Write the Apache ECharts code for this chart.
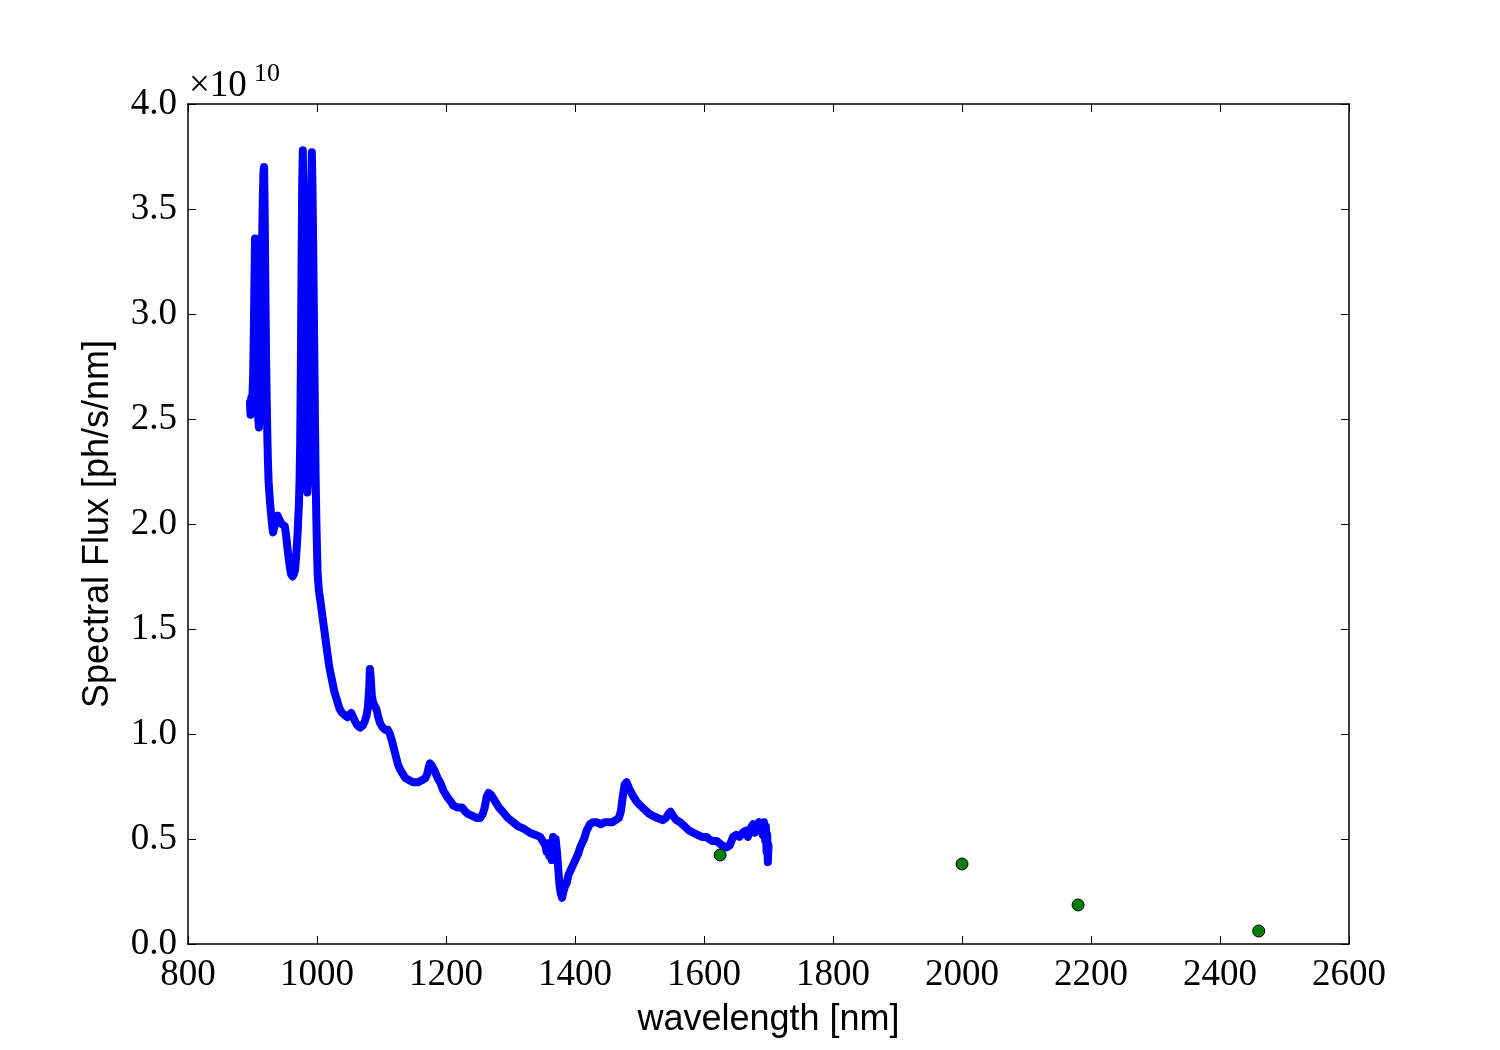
<!DOCTYPE html>
<html>
<head>
<meta charset="utf-8">
<script src="https://cdn.jsdelivr.net/npm/echarts@6/dist/echarts.min.js"></script>
<style>
html,body{margin:0;padding:0;background:#fff;}
#chart{width:1500px;height:1050px;}
</style>
</head>
<body>
<div id="chart"></div>
<script>
// Spectrum (flux in units of 1e10 ph/s/nm)
const wavelength = [896,897,898,899,900,901,902,903,904,905,906,907,908,909,910,911,912,913,914,915,916,917,918,919,920,921,922,923,924,925,927,929,931,932,934,936,939,942,945,948,950,952,954,956,958,960,962,964,966,968,970,972,973,974,975,976,977,978,979,980,981,982,983,984,985,986,987,988,989,990,991,992,993,994,995,996,997,998,999,1000,1001,1003,1005,1008,1012,1015,1019,1023,1027,1031,1035,1039,1043,1047,1050,1053,1056,1059,1063,1067,1071,1074,1077,1079,1081,1082,1083,1085,1087,1090,1092,1095,1098,1102,1106,1110,1113,1116,1121,1125,1129,1133,1137,1143,1149,1156,1163,1168,1171,1173,1175,1178,1183,1187,1191,1196,1202,1207,1211,1218,1225,1230,1234,1241,1248,1253,1257,1260,1263,1266,1270,1276,1282,1288,1296,1304,1312,1320,1330,1338,1346,1350,1354,1356,1358,1360,1362,1364,1366,1368,1370,1372,1374,1376,1378,1380,1382,1384,1387,1390,1393,1396,1399,1402,1405,1408,1411,1414,1418,1423,1428,1434,1440,1446,1452,1458,1463,1468,1471,1474,1477,1480,1484,1489,1495,1501,1508,1515,1521,1528,1536,1541,1545,1548,1552,1557,1563,1570,1577,1583,1590,1597,1604,1608,1613,1620,1628,1635,1640,1645,1650,1655,1660,1665,1668,1672,1676,1679,1682,1685,1687,1689,1691,1693,1695,1696,1697,1698,1699,1700];
const flux = [2.58,2.52,2.60,2.53,2.62,2.70,2.90,3.15,3.36,3.20,2.95,2.75,2.60,2.50,2.46,2.55,2.75,2.95,3.15,3.35,3.55,3.68,3.70,3.45,3.10,2.80,2.60,2.42,2.29,2.20,2.11,2.04,1.98,1.96,1.99,2.02,2.04,2.02,2.00,2.00,1.99,1.95,1.89,1.84,1.79,1.76,1.75,1.76,1.78,1.86,1.96,2.10,2.21,2.40,2.75,3.20,3.60,3.78,3.55,3.20,2.90,2.60,2.35,2.20,2.15,2.20,2.40,2.70,3.00,3.30,3.60,3.77,3.60,3.35,3.05,2.75,2.45,2.20,2.02,1.88,1.76,1.68,1.64,1.57,1.48,1.41,1.32,1.26,1.20,1.16,1.12,1.10,1.09,1.08,1.09,1.10,1.08,1.06,1.04,1.03,1.04,1.06,1.09,1.13,1.22,1.31,1.28,1.18,1.15,1.13,1.12,1.08,1.05,1.03,1.02,1.02,1.00,0.97,0.91,0.86,0.83,0.81,0.79,0.78,0.77,0.77,0.78,0.79,0.81,0.84,0.86,0.85,0.82,0.79,0.77,0.73,0.70,0.68,0.66,0.65,0.65,0.63,0.62,0.61,0.60,0.60,0.62,0.65,0.70,0.72,0.71,0.68,0.65,0.63,0.60,0.58,0.56,0.55,0.53,0.52,0.51,0.49,0.47,0.44,0.48,0.42,0.46,0.40,0.51,0.47,0.50,0.44,0.36,0.28,0.24,0.22,0.25,0.27,0.29,0.33,0.35,0.37,0.39,0.41,0.43,0.46,0.48,0.50,0.54,0.57,0.58,0.58,0.57,0.58,0.58,0.58,0.59,0.60,0.63,0.70,0.76,0.77,0.74,0.71,0.68,0.66,0.64,0.62,0.61,0.60,0.59,0.60,0.62,0.63,0.61,0.59,0.58,0.56,0.54,0.53,0.52,0.51,0.51,0.50,0.49,0.49,0.47,0.46,0.47,0.51,0.52,0.51,0.53,0.54,0.51,0.55,0.57,0.53,0.57,0.58,0.55,0.56,0.52,0.58,0.49,0.56,0.44,0.52,0.39,0.47];
// Photometric points
const photoWave = [1625, 2000, 2180, 2460];
const photoFlux = [0.424, 0.381, 0.186, 0.062];
// Axes
const xTicks = [800,1000,1200,1400,1600,1800,2000,2200,2400,2600];
const yTicks = [0.0,0.5,1.0,1.5,2.0,2.5,3.0,3.5,4.0];

const chart = echarts.init(document.getElementById('chart'), null, {renderer:'canvas'});
const serif = '"Liberation Serif", "DejaVu Serif", serif';
const sans = '"Liberation Sans", Arial, sans-serif';
const axisLineStyle = {color:'#000', width:1.5};
const tickStyle = {inside:true, length:8, lineStyle:{color:'#000', width:1}};

const xBase = {min:xTicks[0], max:xTicks[xTicks.length-1], interval:200, splitLine:{show:false},
  axisLine:{show:true, onZero:false, lineStyle:axisLineStyle}, axisTick:tickStyle};
const yBase = {min:yTicks[0], max:yTicks[yTicks.length-1], interval:0.5, splitLine:{show:false},
  axisLine:{show:true, onZero:false, lineStyle:axisLineStyle}, axisTick:tickStyle};

chart.setOption({
  animation:false,
  backgroundColor:'#fff',
  grid:{left:188, right:151, top:104, bottom:106, containLabel:false},
  xAxis:[
    Object.assign({type:'value', position:'bottom', name:'wavelength [nm]', nameLocation:'middle', nameGap:58,
      nameTextStyle:{fontFamily:sans, fontSize:36, color:'#000'},
      axisLabel:{show:true, margin:13, fontFamily:serif, fontSize:37, color:'#000', formatter:v=>String(v)}}, xBase),
    Object.assign({type:'value', position:'top', axisLabel:{show:false}}, xBase)
  ],
  yAxis:[
    Object.assign({type:'value', position:'left', name:'Spectral Flux [ph/s/nm]', nameLocation:'middle', nameGap:72, nameRotate:90,
      nameTextStyle:{fontFamily:sans, fontSize:36, color:'#000'},
      axisLabel:{show:true, margin:11, fontFamily:serif, fontSize:37, color:'#000', formatter:v=>v.toFixed(1)}}, yBase),
    Object.assign({type:'value', position:'right', axisLabel:{show:false}}, yBase)
  ],
  graphic:[
    {type:'text', left:189, top:68, style:{text:'×10', font:'37px ' + serif, fill:'#000'}},
    {type:'text', left:254, top:61, style:{text:'10', font:'26px ' + serif, fill:'#000'}}
  ],
  series:[
    {type:'line', xAxisIndex:0, yAxisIndex:0, data:wavelength.map((w,i)=>[w, flux[i]]),
      showSymbol:false, symbol:'none', lineStyle:{color:'#0000ff', width:8, cap:'round', join:'round'}, z:2},
    {type:'scatter', xAxisIndex:0, yAxisIndex:0, data:photoWave.map((w,i)=>[w, photoFlux[i]]),
      symbol:'circle', symbolSize:12, itemStyle:{color:'#008000', opacity:1, borderColor:'#000', borderWidth:1}, z:3}
  ]
});
</script>
</body>
</html>
